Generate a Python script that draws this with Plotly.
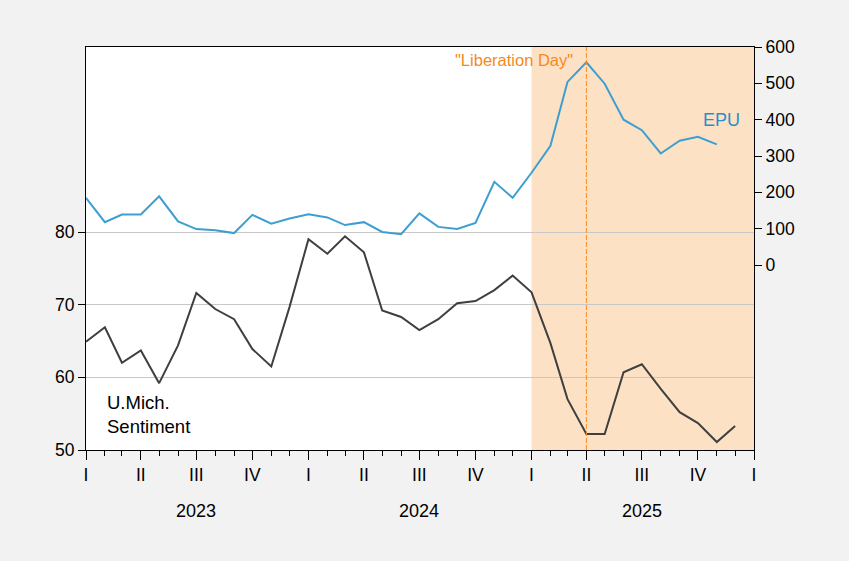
import pandas as pd
import plotly.graph_objects as go

# Monthly data, Jan 2023 onward
sent_start = "2023-01-01"
sentiment = [64.9, 66.9, 62.0, 63.7, 59.2, 64.4, 71.6, 69.4, 68.0, 63.9, 61.5, 69.7,
             79.0, 77.0, 79.4, 77.2, 69.2, 68.3, 66.5, 68.0, 70.2, 70.5, 72.0, 74.0,
             71.7, 64.7, 57.0, 52.2, 52.2, 60.7, 61.8, 58.4, 55.2, 53.7, 51.1, 53.3]
epu = [185, 118, 139, 139, 189, 120, 99, 96, 88, 138, 114, 128,
       140, 131, 110, 118, 91, 85, 142, 105, 99, 116, 229, 185,
       254, 328, 504, 558, 499, 400, 371, 307, 342, 353, 332]

quarter_labels = ["I", "II", "III", "IV"] * 3 + ["I"]
year_labels = ["2023", "2024", "2025"]
left_ticks = [50, 60, 70, 80]
right_ticks = [0, 100, 200, 300, 400, 500, 600]

sent_dates = pd.date_range(sent_start, periods=len(sentiment), freq="MS")
epu_dates = pd.date_range(sent_start, periods=len(epu), freq="MS")
quarter_dates = pd.date_range("2023-01-01", "2026-01-01", freq="QS")
month_dates = pd.date_range("2023-01-01", "2026-01-01", freq="MS")

FONT = "Liberation Sans, Arial, sans-serif"

fig = go.Figure()
fig.add_trace(go.Scatter(x=sent_dates, y=sentiment, mode="lines",
                         line=dict(color="#3f3f3f", width=2), yaxis="y",
                         showlegend=False))
fig.add_trace(go.Scatter(x=epu_dates, y=epu, mode="lines",
                         line=dict(color="#3d9fd1", width=2), yaxis="y2",
                         showlegend=False))

# shaded period and event line
fig.add_shape(type="rect", xref="x", yref="paper", x0="2025-01-01", x1="2026-01-01",
              y0=0, y1=1, fillcolor="#fde1c4", line=dict(width=0), layer="below")
fig.add_shape(type="line", xref="x", yref="paper", x0="2025-04-01", x1="2025-04-01",
              y0=0, y1=1, line=dict(color="#ff8a1e", width=1, dash="5px,2px"))

fig.add_annotation(x="2025-04-01", y=1, xref="x", yref="paper", text='"Liberation Day"',
                   showarrow=False, xanchor="right", yanchor="middle", xshift=-11, yshift=-13,
                   font=dict(family=FONT, size=16.5, color="#f5891f"))
fig.add_annotation(x=0.952, y=0.818, xref="paper", yref="paper", text="EPU",
                   showarrow=False, xanchor="center", yanchor="middle",
                   font=dict(family=FONT, size=18, color="#2a8fc9"))
fig.add_annotation(x=0.028, y=0.087, xref="paper", yref="paper", text="U.Mich.<br>Sentiment",
                   showarrow=False, xanchor="left", yanchor="middle", align="left",
                   font=dict(family=FONT, size=18.5, color="#000000"))

for i, yl in enumerate(year_labels):
    fig.add_annotation(x=f"{2023 + i}-07-01", y=0, xref="x", yref="paper", text=yl,
                       showarrow=False, xanchor="center", yanchor="middle", yshift=-61,
                       font=dict(family=FONT, size=18, color="#000000"))

fig.update_layout(
    width=849, height=561,
    margin=dict(l=86, r=95, t=47, b=111),
    paper_bgcolor="#f2f2f2", plot_bgcolor="#ffffff",
    font=dict(family=FONT, size=17.5, color="#000000"),
    xaxis=dict(range=["2023-01-01", "2026-01-01"], tickmode="array",
               tickvals=list(quarter_dates), ticktext=quarter_labels,
               ticks="outside", ticklen=9, tickcolor="#000000", tickwidth=1,
               showline=True, linecolor="#000000", linewidth=1, mirror=True,
               showgrid=False, zeroline=False,
               minor=dict(tickmode="array", tickvals=list(month_dates), ticks="outside",
                          ticklen=5, tickcolor="#000000", showgrid=False)),
    yaxis=dict(range=[50, 105.46], tickmode="array", tickvals=left_ticks,
               ticks="outside", ticklen=7, tickcolor="#000000",
               showline=True, linecolor="#000000", linewidth=1, mirror=True,
               showgrid=True, gridcolor="#c8c8c8", gridwidth=1, zeroline=False),
    yaxis2=dict(range=[-509, 600], tickmode="array", tickvals=right_ticks,
                overlaying="y", side="right", ticks="outside", ticklen=7,
                tickcolor="#000000", showline=True, linecolor="#000000", linewidth=1,
                showgrid=False, zeroline=False),
)

fig.write_html("out.html",
               config={"displayModeBar": False},
               post_script="document.body.style.margin='0';"
                           "document.body.style.background='#f2f2f2';")
